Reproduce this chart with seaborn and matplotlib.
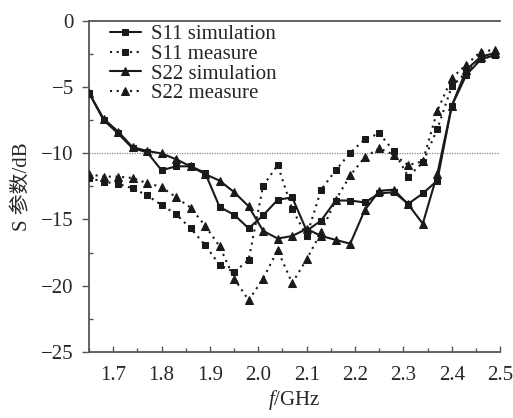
import numpy as np
import pandas as pd
import matplotlib
matplotlib.use("Agg")
import matplotlib.pyplot as plt
import seaborn as sns
from matplotlib.ticker import MultipleLocator

freq = [1.65, 1.68, 1.71, 1.74, 1.77, 1.80, 1.83, 1.86, 1.89, 1.92,
        1.95, 1.98, 2.01, 2.04, 2.07, 2.10, 2.13, 2.16, 2.19, 2.22,
        2.25, 2.28, 2.31, 2.34, 2.37, 2.40, 2.43, 2.46, 2.49]

s11_sim = [-5.45, -7.49, -8.51, -9.63, -9.92, -11.29, -10.99, -10.99, -11.48, -14.06,
           -14.64, -15.67, -14.69, -13.52, -13.33, -15.86, -15.08, -13.57, -13.57, -13.72,
           -13.04, -12.94, -13.82, -13.04, -12.07, -6.42, -4.09, -2.92, -2.58]

s11_meas = [-11.87, -12.16, -12.31, -12.65, -13.18, -13.91, -14.60, -15.67, -16.93, -18.44,
            -18.97, -18.05, -12.45, -10.90, -14.21, -16.25, -12.75, -11.29, -9.97, -8.95,
            -8.51, -9.83, -11.77, -10.70, -8.17, -4.96, -3.89, -2.92, -2.58]

s22_sim = [-5.45, -7.39, -8.37, -9.54, -9.83, -10.02, -10.46, -10.99, -11.58, -12.07,
           -12.94, -14.01, -15.86, -16.44, -16.25, -15.71, -16.25, -16.54, -16.83, -14.30,
           -12.84, -12.75, -13.87, -15.32, -11.58, -6.42, -3.70, -2.72, -2.43]

s22_meas = [-11.58, -11.77, -11.77, -11.87, -12.26, -12.55, -13.33, -14.11, -15.47, -17.03,
            -19.46, -21.10, -19.46, -17.32, -19.80, -18.00, -15.96, -13.52, -11.68, -10.31,
            -9.63, -10.12, -10.90, -10.61, -6.81, -4.33, -3.31, -2.34, -2.19]

labels = ["S11 simulation", "S11 measure", "S22 simulation", "S22 measure"]
x_ticks = [1.7, 1.8, 1.9, 2.0, 2.1, 2.2, 2.3, 2.4, 2.5]
y_ticks = [0, -5, -10, -15, -20, -25]

sns.set_theme(style="ticks")
plt.rcParams["font.family"] = ["Liberation Serif", "Noto Sans CJK SC", "DejaVu Sans"]
plt.rcParams["mathtext.fontset"] = "custom"
plt.rcParams["mathtext.rm"] = "Liberation Serif"
plt.rcParams["mathtext.it"] = "Liberation Serif:italic"

fig = plt.figure(figsize=(5.13, 4.18), dpi=100)
ax = fig.add_axes([0.1735, 0.158, 0.8015, 0.7925])

ax.axhline(-10, color="#888888", lw=0.9, ls=(0, (1, 1)), zorder=1)

dark = "#1a1a1a"
series = [
    (s11_sim, "s", "-", 4.5),
    (s11_meas, "s", (0, (1, 2.2)), 4.5),
    (s22_sim, "^", "-", 5.5),
    (s22_meas, "^", (0, (1, 2.2)), 5.5),
]
for (vals, mk, ls, ms), lab in zip(series, labels):
    df = pd.DataFrame({"f": freq, "S": vals})
    sns.lineplot(data=df, x="f", y="S", ax=ax, color=dark, marker=mk,
                 markersize=ms, markeredgecolor=dark, linestyle=ls,
                 linewidth=1.5, label=lab, zorder=3)

ax.set_xlim(1.65, 2.5)
ax.set_ylim(-25, 0)
ax.set_xticks(x_ticks)
ax.set_xticklabels([f"{v:.1f}" for v in x_ticks])
ax.set_yticks(y_ticks)
ax.xaxis.set_minor_locator(MultipleLocator(0.05))
ax.yaxis.set_minor_locator(MultipleLocator(2.5))

ax.tick_params(axis="x", which="major", direction="in", length=4, width=1,
               labelsize=15, pad=10, color="#555555")
ax.tick_params(axis="x", which="minor", direction="in", length=3, width=1,
               color="#555555")
ax.tick_params(axis="y", which="major", direction="out", length=5, width=1,
               labelsize=15, pad=6, color="#555555")
ax.tick_params(axis="y", which="minor", direction="in", length=3, width=1,
               color="#555555")

for side in ["left", "bottom", "top"]:
    ax.spines[side].set_color("#555555")
    ax.spines[side].set_linewidth(1.3)
ax.spines["right"].set_visible(False)

ax.set_xlabel(r"$\mathit{f}$/GHz", fontsize=15, labelpad=2)
ax.set_ylabel("S 参数/dB", fontsize=15, labelpad=6)

leg = ax.legend(loc="upper left", bbox_to_anchor=(0.02, 1.025), frameon=False,
                fontsize=15, handlelength=1.5, handletextpad=0.5,
                labelspacing=0.0, borderaxespad=0.2)

fig.savefig("out.png", dpi=100)
